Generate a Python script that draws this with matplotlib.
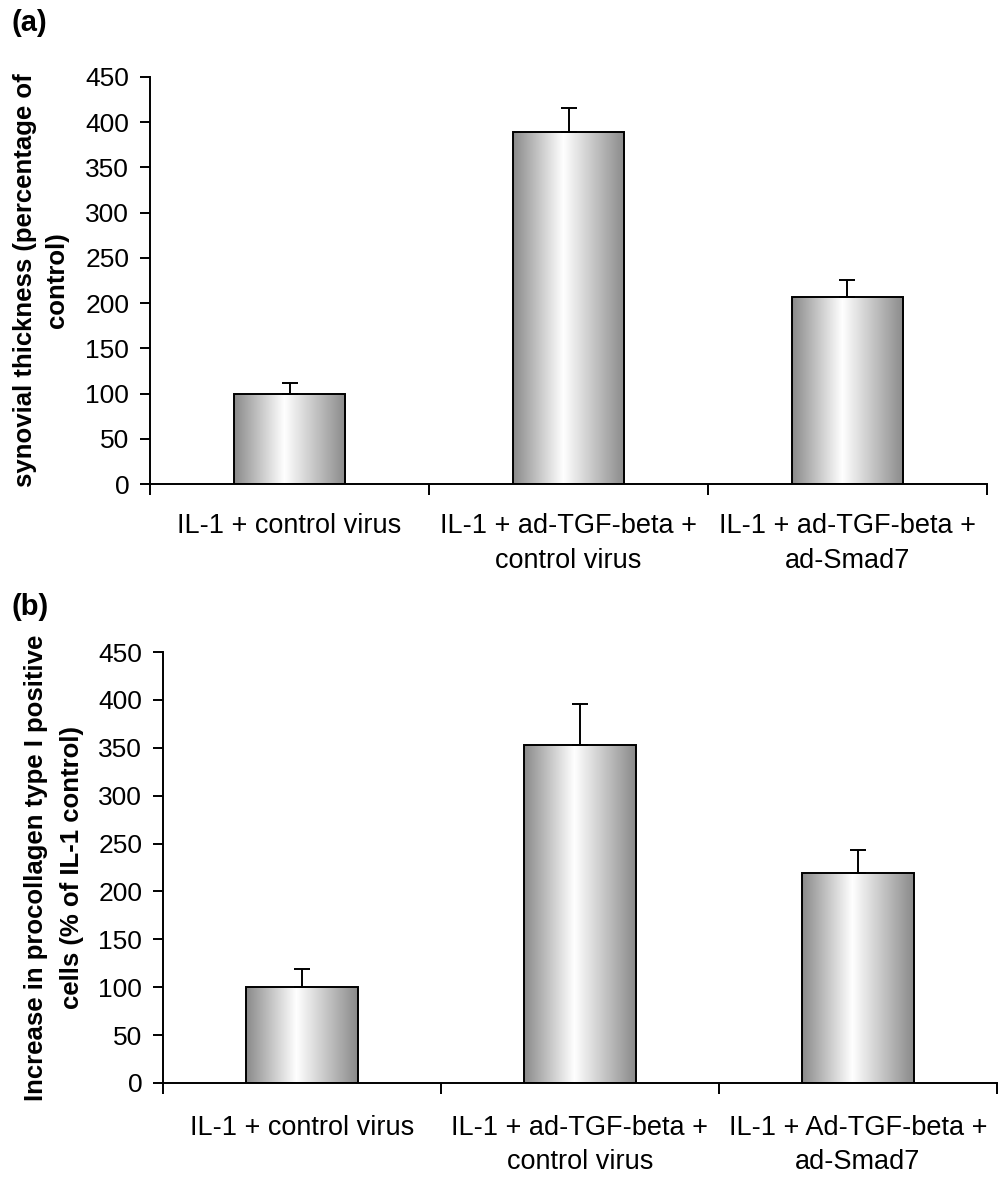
import numpy as np
import matplotlib.pyplot as plt
from matplotlib.colors import LinearSegmentedColormap

# Data
labelsA = ["IL-1 + control virus", "IL-1 + ad-TGF-beta +\ncontrol virus", "IL-1 + ad-TGF-beta +\nad-Smad7"]
labelsB = ["IL-1 + control virus", "IL-1 + ad-TGF-beta +\ncontrol virus", "IL-1 + Ad-TGF-beta +\nad-Smad7"]
valuesA = [100, 389, 207]
errorsA = [12, 27, 19]
valuesB = [100, 353, 219]
errorsB = [19, 43, 24]
yticks = [0, 50, 100, 150, 200, 250, 300, 350, 400, 450]

plt.rcParams['font.family'] = ['Liberation Sans', 'DejaVu Sans']

W, H = 1004, 1197
fig = plt.figure(figsize=(W / 100, H / 100), dpi=100)

# Cylinder-like gray gradient used in the bars
shade = LinearSegmentedColormap.from_list(
    "shade", [(0.0, "#8a8a8a"), (0.45, "#ffffff"), (1.0, "#8a8a8a")])
grad = np.linspace(0, 1, 256).reshape(1, -1)

def drawPanel(rect, values, errors, labels, ylabel, ylabelX, ylabelSpacing, labelPad, labelSpacing, tag, tagPos):
    ax = fig.add_axes(rect)
    x = np.arange(len(values))
    width = 0.4

    bars = ax.bar(x, values, width=width, facecolor="none", edgecolor="black",
                  linewidth=1.4, zorder=3)
    for b in bars:
        im = ax.imshow(grad, cmap=shade, aspect="auto", zorder=2,
                       extent=[b.get_x(), b.get_x() + b.get_width(), 0, b.get_height()])
        im.set_clip_path(b)

    ax.errorbar(x, values, yerr=[np.zeros(len(errors)), errors], fmt="none",
                ecolor="black", elinewidth=1.4, capsize=5.8, capthick=1.4, zorder=4)

    ax.set_xlim(-0.5, len(values) - 0.5)
    ax.set_ylim(0, 450)
    ax.set_yticks(yticks)

    # Category separators as major ticks, labels on minor ticks
    ax.set_xticks(np.arange(-0.5, len(values), 1.0))
    ax.set_xticklabels([])
    ax.set_xticks(x, minor=True)
    ax.set_xticklabels(labels, minor=True, fontsize=19.5, linespacing=labelSpacing)
    ax.tick_params(axis="x", which="major", direction="out", length=8, width=1.4)
    ax.tick_params(axis="x", which="minor", length=0, pad=labelPad)
    ax.tick_params(axis="y", direction="out", length=7, width=1.4, labelsize=19, pad=8)

    for s in ["top", "right"]:
        ax.spines[s].set_visible(False)
    for s in ["left", "bottom"]:
        ax.spines[s].set_linewidth(1.4)

    # y label placed in figure pixels
    pos = ax.get_position()
    fig.text(ylabelX / W, (pos.y0 + pos.y1) / 2, ylabel, rotation=90, fontsize=18.5,
             fontweight="bold", ha="center", va="center", multialignment="center",
             linespacing=ylabelSpacing)
    fig.text(tagPos[0] / W, 1 - tagPos[1] / H, tag, fontsize=21, fontweight="bold",
             ha="left", va="center")
    return ax

# Panel (a)
drawPanel([150 / W, 1 - 484 / H, (987 - 150) / W, (484 - 77) / H],
          valuesA, errorsA, labelsA,
          "synovial thickness (percentage of\ncontrol)", 41, 1.45, 21, 1.45, "(a)", (12, 23))

# Panel (b)
drawPanel([163 / W, 1 - 1083 / H, (997 - 163) / W, (1083 - 652) / H],
          valuesB, errorsB, labelsB,
          "Increase in procollagen type I positive\ncells (% of IL-1 control)", 54, 1.65, 23, 1.4, "(b)", (12, 607))

plt.savefig("out.png", dpi=100)
